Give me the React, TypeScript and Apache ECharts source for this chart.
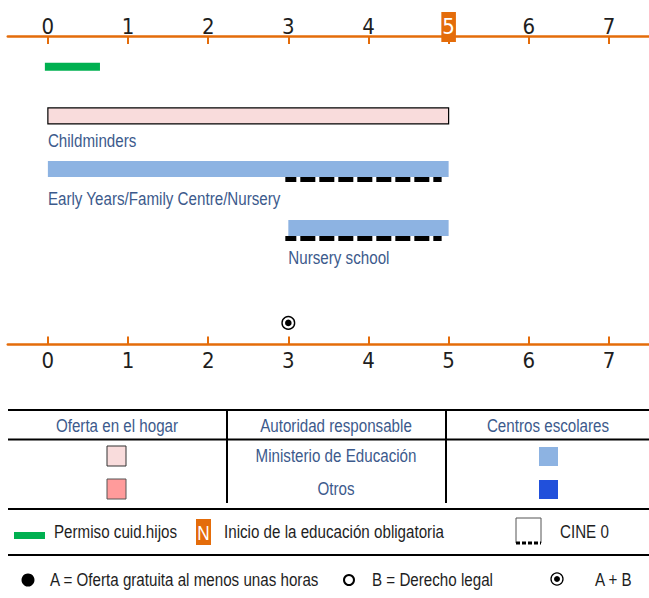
import React, { useEffect, useRef } from 'react';
import * as echarts from 'echarts';

// ---------- data ----------
const ageTicks = [0, 1, 2, 3, 4, 5, 6, 7];
const compulsoryAge = 5;
const leaveStart = [0];
const leaveEnd = [0.65];
const provisionNames = ['Childminders', 'Early Years/Family Centre/Nursery', 'Nursery school'];
const provisionStart = [0, 0, 3];
const provisionEnd = [5, 5, 5];
const provisionSetting = ['home', 'centre', 'centre'];
const provisionAuthority = ['education', 'education', 'education'];
const iscedStart = [null, 3, 3];
const iscedEnd = [null, 5, 5];
const entitlementAges = [3];

const tableHeaders = ['Oferta en el hogar', 'Autoridad responsable', 'Centros escolares'];
const authorityLabels = ['Ministerio de Educación', 'Otros'];
const legendTexts = ['Permiso cuid.hijos', 'Inicio de la educación obligatoria', 'CINE 0'];
const entitlementLegend = ['A = Oferta gratuita al menos unas horas', 'B = Derecho legal', 'A + B'];

// ---------- layout / style ----------
const F = "'Liberation Sans', Arial, sans-serif";
const FD = "'DejaVu Sans Condensed', 'Liberation Sans', sans-serif";
const NARROW = 0.82;
const FS = 18.5;
const ORANGE = '#e46c0a';
const BLUE_TEXT = '#3c5a8c';
const DARK = '#1e1e1e';
const COLORS: Record<string, Record<string, string>> = {
  home: { education: '#f9dcdc', other: '#ff9b9b' },
  centre: { education: '#8db3e2', other: '#2150db' },
};
const LEAVE_ROW = 10;
const PROVISION_ROWS = [25.9, 43.1, 62.2];
const ENTITLEMENT_ROW = 93;

export default function App() {
  const ref = useRef<HTMLDivElement>(null);
  useEffect(() => {
    if (!ref.current) return;
    const chart = echarts.init(ref.current, undefined, { renderer: 'svg' });

    const provisionData = provisionNames.map((_, i) => [provisionStart[i], provisionEnd[i], PROVISION_ROWS[i]]);

    const tableLine = (x1: number, y1: number, x2: number, y2: number) => ({
      type: 'line', shape: { x1, y1, x2, y2 }, style: { stroke: '#000', lineWidth: 2 },
    });
    const txt = (x: number, y: number, text: string, fill: string, align = 'left', size = FS) => ({
      type: 'text', x, y, scaleX: NARROW,
      style: { text, fill, fontSize: size, fontFamily: F, align, verticalAlign: 'middle' },
    });

    const graphic: any[] = [
      tableLine(8, 410, 649, 410),
      tableLine(8, 439.5, 649, 439.5),
      tableLine(227, 410, 227, 503),
      tableLine(446, 410, 446, 503),
      tableLine(8, 509, 649, 509),
      tableLine(8, 555, 649, 555),
      txt(117, 426, tableHeaders[0], BLUE_TEXT, 'center'),
      txt(336, 426, tableHeaders[1], BLUE_TEXT, 'center'),
      txt(548, 426, tableHeaders[2], BLUE_TEXT, 'center'),
      { type: 'rect', shape: { x: 107, y: 446, width: 19, height: 20 }, style: { fill: COLORS.home.education, stroke: '#333', lineWidth: 1 } },
      { type: 'rect', shape: { x: 107, y: 479, width: 19, height: 20 }, style: { fill: COLORS.home.other, stroke: '#555', lineWidth: 1 } },
      { type: 'rect', shape: { x: 539, y: 447, width: 19, height: 19 }, style: { fill: COLORS.centre.education } },
      { type: 'rect', shape: { x: 539, y: 480, width: 19, height: 19 }, style: { fill: COLORS.centre.other } },
      txt(336, 456, authorityLabels[0], BLUE_TEXT, 'center'),
      txt(336, 489, authorityLabels[1], BLUE_TEXT, 'center'),
      // legend row 1
      { type: 'rect', shape: { x: 14, y: 532, width: 31, height: 7 }, style: { fill: '#00b050' } },
      txt(54, 532, legendTexts[0], DARK),
      { type: 'rect', shape: { x: 196, y: 519, width: 15, height: 26 }, style: { fill: ORANGE } },
      txt(203.5, 533, 'N', '#ffffff', 'center', 21),
      txt(224, 532, legendTexts[1], DARK),
      { type: 'polyline', shape: { points: [[516, 543], [516, 518], [541, 518], [541, 543]] }, style: { stroke: '#555', lineWidth: 1, fill: null } },
      { type: 'line', shape: { x1: 516, y1: 543, x2: 541, y2: 543 }, style: { stroke: '#000', lineWidth: 3, lineDash: [4, 2] } },
      txt(560, 532, legendTexts[2], DARK),
      // legend row 2
      { type: 'circle', shape: { cx: 28, cy: 580, r: 6.5 }, style: { fill: '#000' } },
      txt(50, 580, entitlementLegend[0], DARK),
      { type: 'circle', shape: { cx: 349, cy: 580, r: 5 }, style: { fill: '#fff', stroke: '#000', lineWidth: 2 } },
      txt(372, 580, entitlementLegend[1], DARK),
      { type: 'circle', shape: { cx: 557, cy: 579, r: 6 }, style: { fill: '#fff', stroke: '#000', lineWidth: 1.3 } },
      { type: 'circle', shape: { cx: 557, cy: 579, r: 3 }, style: { fill: '#000' } },
      txt(595, 580, entitlementLegend[2], DARK),
    ];

    const axisCommon = {
      type: 'value', min: -0.5, max: 7.5,
      axisLine: { show: true, lineStyle: { color: ORANGE, width: 2.5 } },
      axisTick: { show: true, inside: true, length: 8, customValues: ageTicks, lineStyle: { color: ORANGE, width: 2 } },
      splitLine: { show: false },
    };

    chart.setOption({
      animation: false,
      grid: { left: 7.8, top: 36, width: 643.4, height: 308.5, containLabel: false },
      xAxis: [
        {
          ...axisCommon, position: 'top',
          axisLabel: {
            customValues: ageTicks, margin: 0,
            formatter: (v: number) => (v === compulsoryAge ? `{hl|${v}}` : `{n|${v}}`),
            rich: {
              n: { fontSize: 22, fontFamily: FD, color: DARK, lineHeight: 18, padding: [3, 1, 5, 1] },
              hl: { fontSize: 22, fontFamily: FD, color: '#fff', backgroundColor: ORANGE, lineHeight: 18, padding: [3, 1, 5, 1] },
            },
          },
        },
        {
          ...axisCommon, position: 'bottom',
          axisLabel: { customValues: ageTicks, margin: 5, fontSize: 22, fontFamily: FD, color: DARK },
        },
      ],
      yAxis: { type: 'value', min: 0, max: 100, inverse: true, show: false },
      graphic,
      series: [
        {
          type: 'custom', xAxisIndex: 0, clip: false,
          data: leaveStart.map((s, i) => [s, leaveEnd[i], LEAVE_ROW]),
          renderItem: (params: any, api: any) => {
            const a = api.coord([api.value(0), api.value(2)]);
            const b = api.coord([api.value(1), api.value(2)]);
            return { type: 'rect', shape: { x: a[0] - 3, y: a[1] - 4, width: b[0] - a[0] + 3, height: 8 }, style: { fill: '#00b050' } };
          },
        },
        {
          type: 'custom', xAxisIndex: 0, clip: false,
          data: provisionData,
          renderItem: (params: any, api: any) => {
            const i = params.dataIndex;
            const a = api.coord([api.value(0), api.value(2)]);
            const b = api.coord([api.value(1), api.value(2)]);
            const h = 16;
            const home = provisionSetting[i] === 'home';
            const fill = COLORS[provisionSetting[i]][provisionAuthority[i]];
            const children: any[] = [
              {
                type: 'rect',
                shape: { x: a[0], y: a[1] - h / 2, width: b[0] - a[0], height: h },
                style: home ? { fill, stroke: '#000', lineWidth: 1.2 } : { fill },
              },
            ];
            const hasIsced = iscedStart[i] != null;
            if (hasIsced) {
              const ia = api.coord([iscedStart[i], api.value(2)])[0];
              const ib = api.coord([iscedEnd[i], api.value(2)])[0];
              children.push({
                type: 'line',
                shape: { x1: ia - 3, y1: a[1] + h / 2 + 2.5, x2: ib - 7, y2: a[1] + h / 2 + 2.5 },
                style: { stroke: '#000', lineWidth: 5, lineDash: [15, 4], lineDashOffset: 4 },
              });
            }
            children.push({
              type: 'text', x: a[0], y: a[1] + h / 2 + (hasIsced ? 22 : 17), scaleX: NARROW,
              style: { text: provisionNames[i], fill: BLUE_TEXT, fontSize: FS, fontFamily: F, align: 'left', verticalAlign: 'middle' },
            });
            return { type: 'group', children };
          },
        },
        {
          type: 'custom', xAxisIndex: 0, clip: false,
          data: entitlementAges.map((v) => [v, ENTITLEMENT_ROW]),
          renderItem: (params: any, api: any) => {
            const p = api.coord([api.value(0), api.value(1)]);
            return {
              type: 'group',
              children: [
                { type: 'circle', shape: { cx: p[0], cy: p[1], r: 6.3 }, style: { fill: '#fff', stroke: '#000', lineWidth: 1.4 } },
                { type: 'circle', shape: { cx: p[0], cy: p[1], r: 3.3 }, style: { fill: '#000' } },
              ],
            };
          },
        },
      ],
    });
    return () => chart.dispose();
  }, []);
  return <div ref={ref} style={{ position: 'absolute', left: 0, top: 0, width: 649, height: 598, background: '#fff' }} />;
}
